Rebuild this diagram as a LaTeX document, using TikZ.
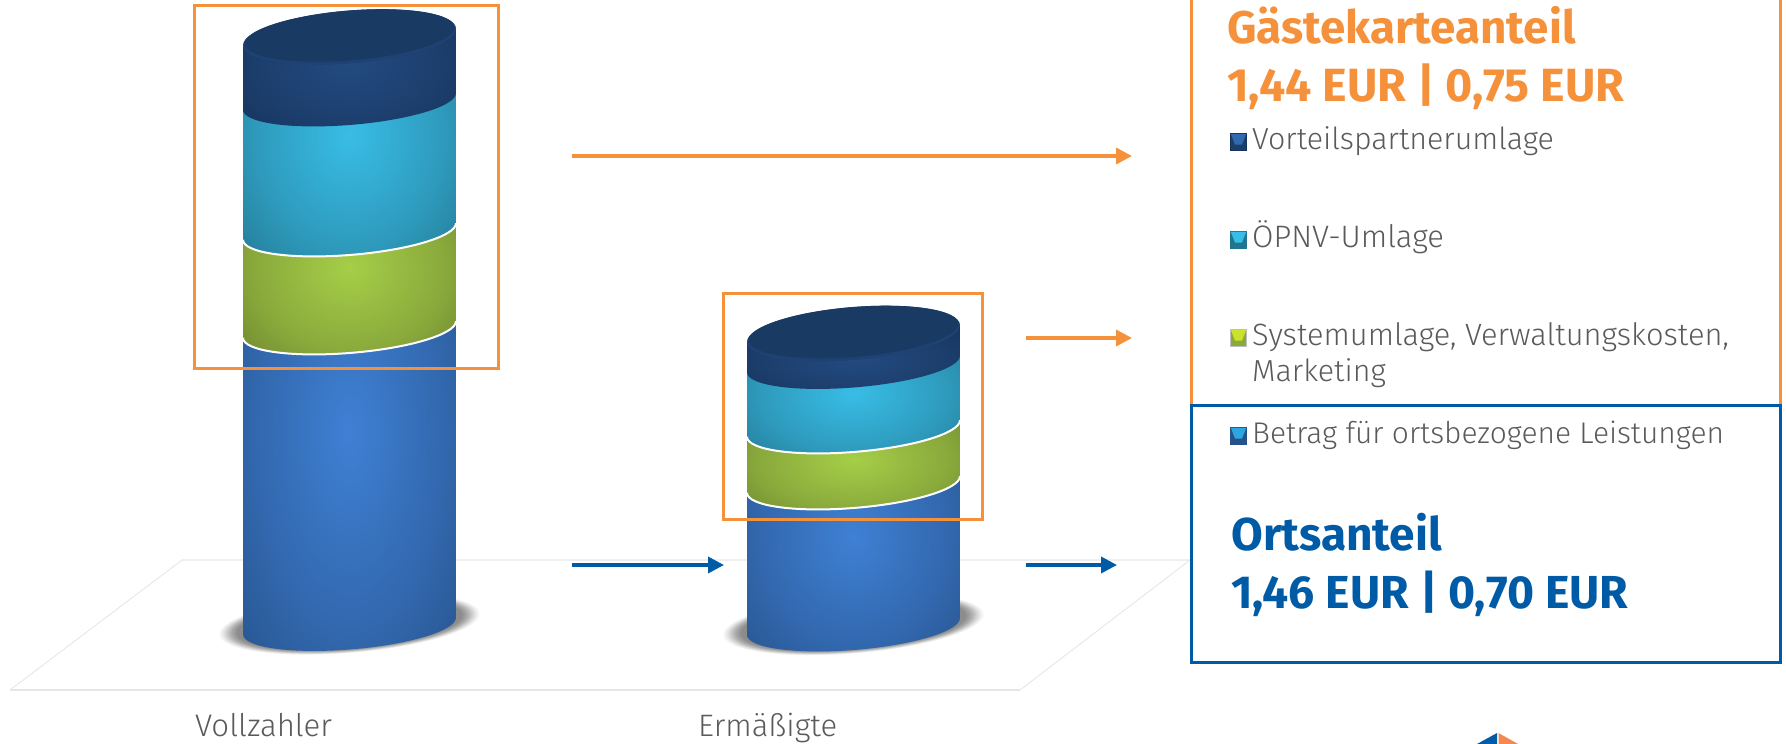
\documentclass[tikz,border=0pt]{standalone}
\usepackage{fontspec}
\setmainfont{Fira Sans}
\newfontfamily\labfont{Fira Sans Light}
\usetikzlibrary{arrows.meta}
\definecolor{orng}{HTML}{F5913B}
\definecolor{logoO}{HTML}{F4884E}
\definecolor{blu}{HTML}{005BA6}
\definecolor{txt}{HTML}{5A5A5A}
\definecolor{flr}{HTML}{E6E6E6}
\definecolor{flrb}{HTML}{EFEFEF}
\definecolor{bA}{HTML}{3F80D4}\definecolor{bB}{HTML}{3268AE}\definecolor{bC}{HTML}{26528A}\definecolor{bD}{HTML}{173460}
\definecolor{gA}{HTML}{A6CE48}\definecolor{gB}{HTML}{8AAA3C}\definecolor{gC}{HTML}{68802C}\definecolor{gD}{HTML}{404F1A}
\definecolor{cA}{HTML}{38BDE6}\definecolor{cB}{HTML}{2E9ABC}\definecolor{cC}{HTML}{22758E}\definecolor{cD}{HTML}{154E60}
\definecolor{dA}{HTML}{234A80}\definecolor{dB}{HTML}{1C3E6C}\definecolor{dC}{HTML}{15325A}\definecolor{dD}{HTML}{0D213A}
\definecolor{topRim}{HTML}{1E4274}\definecolor{topFace}{HTML}{193A62}
\pgfdeclareradialshading{cylblue}{\pgfpoint{0bp}{0bp}}{color(0bp)=(bA);color(22bp)=(bB);color(39bp)=(bC);color(50bp)=(bD);color(70bp)=(bD)}
\pgfdeclareradialshading{cylgreen}{\pgfpoint{0bp}{0bp}}{color(0bp)=(gA);color(22bp)=(gB);color(39bp)=(gC);color(50bp)=(gD);color(70bp)=(gD)}
\pgfdeclareradialshading{cylcyan}{\pgfpoint{0bp}{0bp}}{color(0bp)=(cA);color(22bp)=(cB);color(39bp)=(cC);color(50bp)=(cD);color(70bp)=(cD)}
\pgfdeclareradialshading{cyldark}{\pgfpoint{0bp}{0bp}}{color(0bp)=(dA);color(22bp)=(dB);color(39bp)=(dC);color(50bp)=(dD);color(70bp)=(dD)}
\tikzset{
  x=1pt,y=-1pt,
  hbox/.style={draw=orng,line width=3pt,inner sep=0pt,outer sep=0pt,anchor=north west},
  bbox/.style={draw=blu,line width=3pt,inner sep=0pt,outer sep=0pt,anchor=north west},
  conO/.style={draw=orng,line width=3.6pt,-{Triangle[length=16pt,width=16pt]}},
  conB/.style={draw=blu,line width=3.6pt,-{Triangle[length=16pt,width=16pt]}},
  lab/.style={anchor=base west,inner sep=0pt,text=txt,font=\labfont\fontsize{#1}{32}\selectfont},
  lab/.default=30.4,
  headO/.style={anchor=base west,inner sep=0pt,text=orng,font=\fontsize{#1}{50}\selectfont\bfseries},
  headB/.style={anchor=base west,inner sep=0pt,text=blu,font=\fontsize{#1}{50}\selectfont\bfseries},
  floorline/.style={draw=flr,line width=0.9pt},
  tilt/.style={shift={#1},yslant=0.078},
}
\newcommand{\rimpath}{(-106.5,0) .. controls (-106.5,13) and (-58.8,23.5) .. (0,23.5) .. controls (58.8,23.5) and (106.5,13) .. (106.5,0)}
\newcommand{\band}[6]{% cx, ytop, ybot, shading, bright y, half height
  \begin{scope}
    \clip[tilt={(#1,#3)}] (-106.5,{(#2)-(#3)}) -- (106.5,{(#2)-(#3)}) -- (106.5,0) .. controls (106.5,13) and (58.8,23.5) .. (0,23.5) .. controls (-58.8,23.5) and (-106.5,13) .. (-106.5,0) -- cycle;
    \shade[shading=#4] (#1-106.5,{(#5)-(#6)}) rectangle (#1+106.5,{(#5)+(#6)});
  \end{scope}}
\newcommand{\flatell}[5]{% cx, cy, a, b, colour
  \fill[#5,tilt={(#1,#2)}] (0,0) ellipse [x radius=#3,y radius=#4];}
% cx, top, dark rim, cyan rim, green rim, base, bright of blue, green, cyan
\newcommand{\cylinder}[9]{%
  \foreach \f/\g in {1/4,.985/8,.97/13,.955/18,.94/24,.925/29,.91/34,.895/38,.88/42,.865/45}{
    \flatell{#1}{#6-2}{130*\f}{29*\f}{black!\g}
  }
  \band{#1}{#5-30}{#6}{cylblue}{#7}{(#6)+32-(#7)}
  \band{#1}{#4-30}{#5}{cylgreen}{#8}{(#5)+32-(#8)}
  \band{#1}{#3-30}{#4}{cylcyan}{#9}{(#4)+32-(#9)}
  \band{#1}{#2}{#3}{cyldark}{#2+27}{(#3)+32-(#2)-27}
  \draw[white,line width=2pt,tilt={(#1,#5)}] \rimpath;
  \draw[white,line width=2pt,tilt={(#1,#4)}] \rimpath;
  \flatell{#1}{#2}{106.5}{26.5}{topRim}
  \flatell{#1}{#2-1.5}{105}{25}{topFace}
}
\newcommand{\legicon}[5]{% x,y,edge,dark,light
  \fill[#3] (#1,#2) rectangle (#1+17,#2+18);
  \fill[#4] (#1+0.8,#2+0.8) rectangle (#1+16.2,#2+16.8);
  \fill[#5] (#1+0.8,#2+0.8) -- (#1+16.2,#2+0.8) -- (#1+12,#2+11.5) -- (#1+5,#2+11.5) -- cycle;
}
\begin{document}
\begin{tikzpicture}
\useasboundingbox (0,0) rectangle (1786,744);
% floor
\draw[flrb,line width=2pt] (182,560) -- (1190,560);
\draw[floorline] (182,560) -- (10,690);
\draw[floorline] (1190,560) -- (1020,690);
\draw[flr,line width=2pt] (10,690) -- (1020,690);
% cylinders
\cylinder{349.5}{37}{101.5}{231.5}{329.5}{626}{432}{268}{135}
\cylinder{853.5}{333.5}{364}{428.5}{484.5}{626.5}{537}{460}{393}
% orange frames
\node[hbox,minimum width=304pt,minimum height=363pt] (frameA) at (194,5) {};
\node[hbox,minimum width=259pt,minimum height=226pt] (frameB) at (723,293) {};
% right boxes
\draw[orng,line width=3pt] (1191,-5) -- (1191,405.5);
\draw[orng,line width=3pt] (1780,-5) -- (1780,405.5);
\node[bbox,minimum width=589pt,minimum height=257pt] (boxO) at (1191,405.5) {};
% arrows
\coordinate (a1s) at (572,156); \coordinate (a1e) at (1132,156);
\coordinate (a2s) at (1026,338); \coordinate (a2e) at (1132,338);
\coordinate (a3s) at (572,565); \coordinate (a3e) at (724,565);
\coordinate (a4s) at (1026,565); \coordinate (a4e) at (1117,565);
\draw[conO] (a1s) -- (a1e);
\draw[conO] (a2s) -- (a2e);
\draw[conB] (a3s) -- (a3e);
\draw[conB] (a4s) -- (a4e);
% text
\node[headO=45.8] (h1) at (1227,43) {Gästekarteanteil};
\node[headO=46.6] (h2) at (1227,101) {1,44 EUR | 0,75 EUR};
\legicon{1230}{133}{dC}{dB}{bB}
\node[lab] (l1) at (1252,149) {Vorteilspartnerumlage};
\legicon{1230}{231}{cC}{cC}{cA}
\node[lab=31] (l2) at (1252,247) {ÖPNV-Umlage};
\legicon{1230}{329}{gray!50}{gB}{gA!60!yellow}
\node[lab=30.8] (l3) at (1252,345) {Systemumlage, Verwaltungskosten,};
\node[lab] (l3b) at (1252,381) {Marketing};
\legicon{1230}{427}{bC}{bC}{bA!70!cyan}
\node[lab=29.9] (l4) at (1252,443) {Betrag für ortsbezogene Leistungen};
\node[headB=46] (h3) at (1231,550) {Ortsanteil};
\node[headB=46.3] (h4) at (1231,608) {1,46 EUR | 0,70 EUR};
\node[lab=31.2] (c1) at (195,736) {Vollzahler};
\node[lab=31] (c2) at (698,736) {Ermäßigte};
% logo
\fill[blu] (1497,733) -- (1497,744) -- (1477,744) -- cycle;
\fill[logoO] (1498.5,733) -- (1498.5,744) -- (1518,744) -- cycle;
\end{tikzpicture}
\end{document}
